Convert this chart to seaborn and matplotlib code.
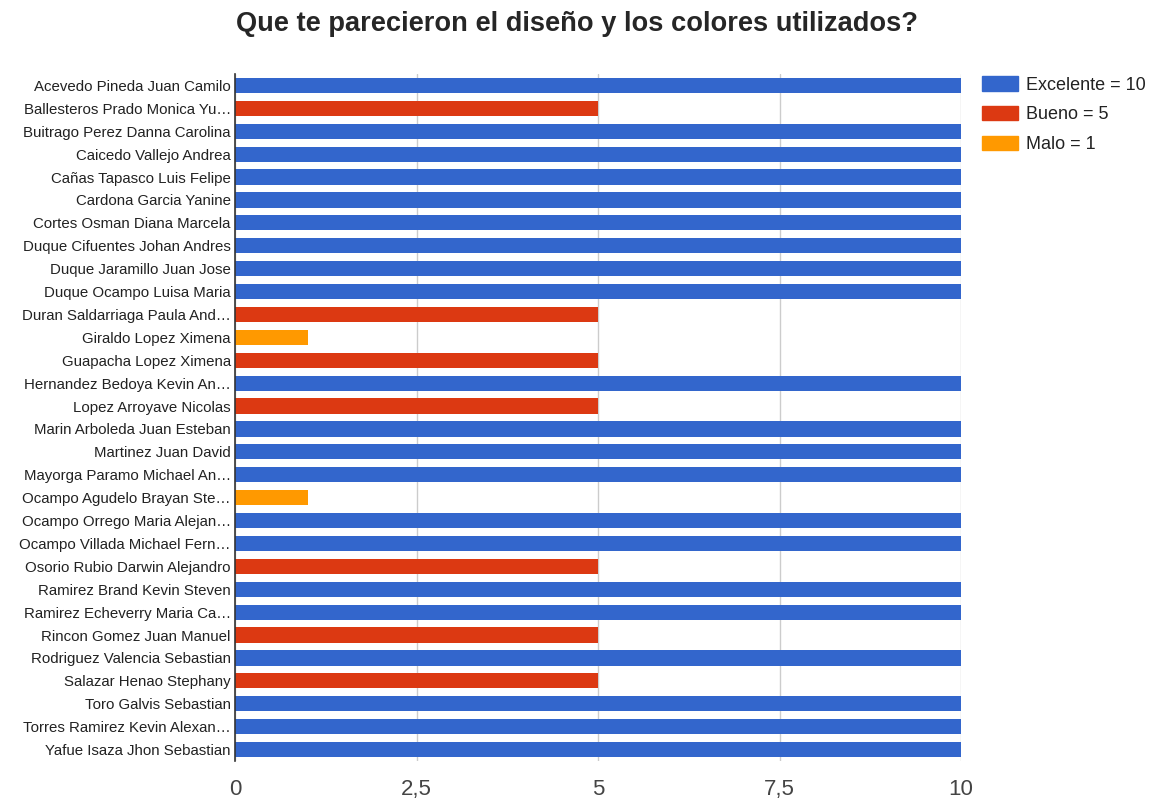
import matplotlib
matplotlib.use("Agg")
import matplotlib.pyplot as plt
import seaborn as sns
import pandas as pd
from matplotlib.patches import Patch

names = [
    "Acevedo Pineda Juan Camilo", "Ballesteros Prado Monica Yu…", "Buitrago Perez Danna Carolina",
    "Caicedo Vallejo Andrea", "Cañas Tapasco Luis Felipe", "Cardona Garcia Yanine",
    "Cortes Osman Diana Marcela", "Duque Cifuentes Johan Andres", "Duque Jaramillo Juan Jose",
    "Duque Ocampo Luisa Maria", "Duran Saldarriaga Paula And…", "Giraldo Lopez Ximena",
    "Guapacha Lopez Ximena", "Hernandez Bedoya Kevin An…", "Lopez Arroyave Nicolas",
    "Marin Arboleda Juan Esteban", "Martinez Juan David", "Mayorga Paramo Michael An…",
    "Ocampo Agudelo Brayan Ste…", "Ocampo Orrego Maria Alejan…", "Ocampo Villada Michael Fern…",
    "Osorio Rubio Darwin Alejandro", "Ramirez Brand Kevin Steven", "Ramirez Echeverry Maria Ca…",
    "Rincon Gomez Juan Manuel", "Rodriguez Valencia Sebastian", "Salazar Henao Stephany",
    "Toro Galvis Sebastian", "Torres Ramirez Kevin Alexan…", "Yafue Isaza Jhon Sebastian",
]
scores = [10, 5, 10, 10, 10, 10, 10, 10, 10, 10,
          5, 1, 5, 10, 5, 10, 10, 10, 1, 10,
          10, 5, 10, 10, 5, 10, 5, 10, 10, 10]
categories = ["Excelente = 10", "Bueno = 5", "Malo = 1"]
category_values = [10, 5, 1]
colors = ["#3366cc", "#dc3912", "#ff9900"]
x_ticks = [0, 2.5, 5, 7.5, 10]
x_tick_labels = ["0", "2,5", "5", "7,5", "10"]

cat_map = dict(zip(category_values, categories))
df = pd.DataFrame({"name": names, "score": scores,
                   "cat": [cat_map[s] for s in scores]})

sns.set_style("white")
plt.rcParams["font.family"] = ["Liberation Sans", "DejaVu Sans"]

fig = plt.figure(figsize=(11.58, 8.02), dpi=100)
ax = fig.add_axes([235/1158, 1-761/802, (961-235)/1158, (761-74)/802])

sns.barplot(data=df, x="score", y="name", hue="cat", hue_order=categories,
            palette=colors, dodge=False, width=0.66, ax=ax, legend=False,
            saturation=1, orient="h", linewidth=0, edgecolor="none", zorder=3)

ax.set_xlim(0, 10)
ax.set_ylim(len(names) - 0.5, -0.5)
ax.set_xticks(x_ticks)
ax.set_xticklabels(x_tick_labels, fontsize=16, color="#444444")
ax.tick_params(axis="x", length=0, pad=13)
ax.tick_params(axis="y", length=0, pad=3, labelsize=10.8, labelcolor="#222222")
ax.set_xlabel("")
ax.set_ylabel("")
ax.xaxis.grid(True, color="#cccccc", linewidth=1, zorder=0)
ax.set_axisbelow(True)
for s in ["top", "right", "bottom"]:
    ax.spines[s].set_visible(False)
ax.spines["left"].set_color("#333333")
ax.spines["left"].set_linewidth(1.2)
ax.spines["left"].set_zorder(5)

handles = [Patch(facecolor=c, edgecolor=c) for c in colors]
fig.legend(handles, categories, loc="upper left", bbox_to_anchor=(966/1158, 1-60/802),
           frameon=False, fontsize=13, handlelength=2.0, handleheight=0.85,
           labelspacing=0.68, handletextpad=0.45, labelcolor="#222222")

fig.suptitle("Que te parecieron el diseño y los colores utilizados?",
             x=577/1158, y=1-11/802, va="top", fontsize=19.6, fontweight="bold")

fig.savefig("out.png", dpi=100)
